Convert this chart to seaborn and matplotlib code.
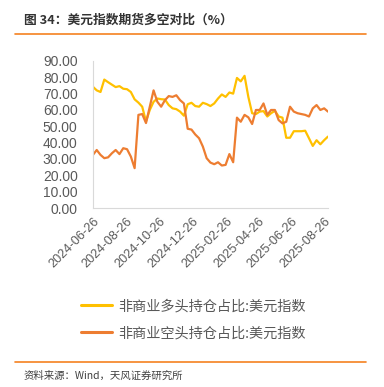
"""
美元指数期货多空对比 chart
"""

import matplotlib
matplotlib.use("Agg")
import matplotlib.pyplot as plt
import matplotlib.dates as mdates
import numpy as np
import pandas as pd
import seaborn as sns

# weekly COT dates
dates = pd.date_range("2024-06-25", periods=63, freq="7D")

# 非商业多头持仓占比 (%)
long_ratio = [74.2, 72.0, 71.0, 78.6, 77.0, 75.5, 74.0, 74.6, 73.0, 72.7,
              71.0, 66.5, 64.5, 62.0, 53.0, 60.0, 65.0, 67.0, 66.6, 66.4,
              63.0, 61.0, 60.5, 59.0, 56.5, 63.5, 64.4, 62.4, 62.0, 64.4,
              63.6, 62.4, 64.0, 67.0, 69.5, 68.0, 70.7, 70.0, 79.6, 77.5,
              80.9, 68.0, 58.0, 57.5, 59.0, 59.3, 56.0, 58.0, 59.5, 56.0,
              55.3, 43.0, 43.0, 47.0, 47.0, 47.0, 47.3, 42.7, 38.0, 41.5,
              39.0, 41.5, 43.7]

# 非商业空头持仓占比 (%)
short_ratio = [32.5, 35.5, 32.5, 30.5, 31.0, 33.5, 35.5, 33.0, 36.6, 36.0,
               31.5, 24.4, 57.0, 57.5, 52.0, 62.0, 72.0, 65.0, 62.0, 66.0,
               68.5, 68.0, 69.0, 66.0, 64.0, 48.5, 48.0, 45.0, 42.7, 37.6,
               30.5, 27.8, 26.8, 28.0, 26.0, 26.4, 33.0, 28.0, 55.3, 52.8,
               57.0, 55.5, 51.4, 60.0, 60.0, 64.0, 57.0, 60.0, 60.0, 53.8,
               51.8, 52.8, 62.0, 59.0, 58.0, 57.5, 57.0, 56.0, 61.0, 63.0,
               60.0, 61.0, 59.0]

labels = ["非商业多头持仓占比:美元指数", "非商业空头持仓占比:美元指数"]
tick_dates = ["2024-06-26", "2024-08-26", "2024-10-26", "2024-12-26",
              "2025-02-26", "2025-04-26", "2025-06-26", "2025-08-26"]
y_ticks = np.arange(0, 91, 10)

df = pd.DataFrame({"date": dates, labels[0]: long_ratio, labels[1]: short_ratio})
df = df.melt(id_vars="date", var_name="series", value_name="value")

sns.set_style("white")
plt.rcParams["font.family"] = ["Noto Sans CJK SC", "DejaVu Sans"]
latin = ["Liberation Sans", "Noto Sans CJK SC"]

fig = plt.figure(figsize=(3.84, 3.87), dpi=100)
ax = fig.add_axes([0.242, 0.4625, 0.612, 0.38])

palette = {labels[0]: "#FFC000", labels[1]: "#ED7D31"}
sns.lineplot(data=df, x="date", y="value", hue="series", palette=palette,
             linewidth=1.6, ax=ax, legend=True)

ax.set_xlim(dates[0], dates[-1])
ax.set_ylim(0, 90)
ax.set_yticks(y_ticks)
ax.set_yticklabels([f"{v:.2f}" for v in y_ticks])
ax.set_xticks(pd.to_datetime(tick_dates))
ax.xaxis.set_major_formatter(mdates.DateFormatter("%Y-%m-%d"))
ax.set_xlabel("")
ax.set_ylabel("")

for s in ["top", "right"]:
    ax.spines[s].set_visible(False)
for s in ["left", "bottom"]:
    ax.spines[s].set_color("#d9d9d9")
    ax.spines[s].set_linewidth(0.8)

ax.tick_params(axis="y", labelsize=10, colors="#595959", length=0, pad=11)
ax.tick_params(axis="x", labelsize=9.2, colors="#595959", length=3,
               width=0.8, color="#d9d9d9", pad=2)
plt.setp(ax.get_xticklabels(), rotation=45, ha="right", rotation_mode="anchor",
         family=latin)
plt.setp(ax.get_yticklabels(), family=latin)

# legend below the plot
handles, lbls = ax.get_legend_handles_labels()
ax.get_legend().remove()
leg = fig.legend(handles, lbls, loc="center", bbox_to_anchor=(0.503, 0.174),
                 ncol=1, frameon=False, fontsize=10.2, handlelength=2.2,
                 handletextpad=0.4, labelspacing=0.9, labelcolor="#595959")
for line in leg.get_lines():
    line.set_linewidth(2.2)

# title and decorations
fig.text(0.062, 0.948, "图 34：美元指数期货多空对比（%）", fontsize=9.2,
         fontweight="bold", color="#333333", va="center", ha="left")
fig.add_artist(plt.Line2D([0.039, 0.953], [0.912, 0.912], color="#F58220",
                          linewidth=1.2, transform=fig.transFigure))
fig.add_artist(plt.Line2D([0.039, 0.953], [0.065, 0.065], color="#F58220",
                          linewidth=1.2, transform=fig.transFigure))
fig.text(0.062, 0.029, "资料来源：Wind，天风证券研究所", fontsize=7.5,
         color="#404040", va="center", ha="left")

fig.savefig("out.png", dpi=100)
